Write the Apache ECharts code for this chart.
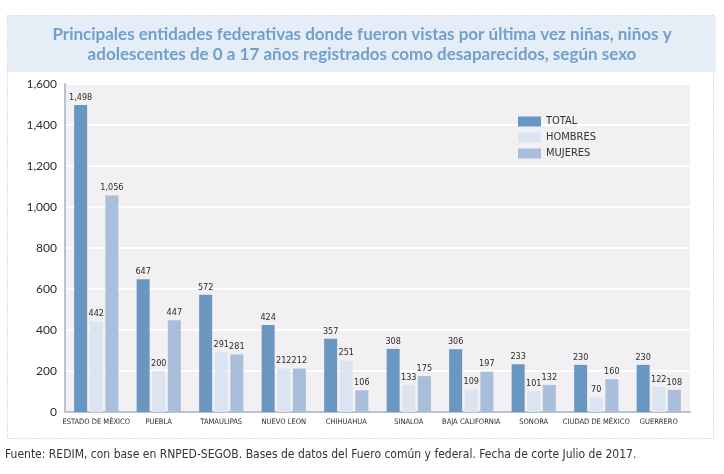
<!DOCTYPE html>
<html>
<head>
<meta charset="utf-8">
<script src="https://cdn.jsdelivr.net/npm/echarts@6/dist/echarts.min.js"></script>
<style>
  html, body { margin: 0; padding: 0; background: #fff; }
  #chart { width: 724px; height: 474px; }
</style>
</head>
<body>
<div id="chart"></div>
<script>
// entidades federativas
const estados = ['ESTADO DE MÉXICO', 'PUEBLA', 'TAMAULIPAS', 'NUEVO LEON', 'CHIHUAHUA',
  'SINALOA', 'BAJA CALIFORNIA', 'SONORA', 'CIUDAD DE MÉXICO', 'GUERRERO'];
const total   = [1498, 647, 572, 424, 357, 308, 306, 233, 230, 230];
const hombres = [442, 200, 291, 212, 251, 133, 109, 101, 70, 122];
const mujeres = [1056, 447, 281, 212, 106, 175, 197, 132, 160, 108];
const seriesNames = ['TOTAL', 'HOMBRES', 'MUJERES'];
const colores = ['#6a96c2', '#dbe4f0', '#a8bedb'];

const narrow = '"DejaVu Sans Condensed", "Liberation Sans Narrow", "Liberation Sans", sans-serif';

let chart = echarts.init(document.getElementById('chart'));

function barSerie(name, data, color) {
    return {
        name: name,
        type: 'bar',
        data: data,
        barWidth: 13,
        barGap: '20%',
        itemStyle: { color: color },
        label: {
            show: true,
            position: 'top',
            distance: 3,
            fontFamily: narrow,
            fontSize: 9,
            color: '#2b2b2b',
            formatter: (p) => p.value.toLocaleString('en-US')
        }
    };
}

let option = {
    animation: false,
    backgroundColor: '#ffffff',
    title: {
        text: 'Principales entidades federativas donde fueron vistas por última vez niñas, niños y\nadolescentes de 0 a 17 años registrados como desaparecidos, según sexo',
        left: 'center',
        top: 20,
        textStyle: {
            fontFamily: 'Lato, sans-serif',
            fontWeight: 'bold',
            fontSize: 17,
            lineHeight: 20,
            color: '#72a0cd'
        }
    },
    graphic: [
        // caja del título
        { type: 'rect', z: -10, shape: { x: 8, y: 16, width: 708, height: 56 }, style: { fill: '#e5edf6' } },
        // borde punteado
        { type: 'rect', z: -11, shape: { x: 7.5, y: 15.5, width: 706, height: 423 },
          style: { fill: 'none', stroke: '#b9bcc4', lineWidth: 1, lineDash: [1, 2] } },
        // fuente
        { type: 'text', left: 5, top: 449,
          style: { text: 'Fuente: REDIM, con base en RNPED-SEGOB. Bases de datos del Fuero común y federal. Fecha de corte Julio de 2017.',
                   font: '12px ' + narrow, fill: '#333333' } }
    ],
    legend: {
        data: seriesNames,
        orient: 'vertical',
        left: 513,
        top: 111,
        itemWidth: 23,
        itemHeight: 10,
        itemGap: 5,
        icon: 'rect',
        textStyle: { fontFamily: narrow, fontSize: 11, color: '#333' }
    },
    grid: {
        left: 65,
        right: 34,
        top: 84,
        bottom: 62,
        show: true,
        backgroundColor: '#f2f0f2',
        borderWidth: 0
    },
    xAxis: {
        type: 'category',
        data: estados,
        axisLine: { lineStyle: { color: '#b7c3d3', width: 2 } },
        axisTick: { show: false },
        axisLabel: {
            interval: 0,
            fontFamily: narrow,
            fontSize: 7.5,
            color: '#2b2b2b',
            margin: 6
        }
    },
    yAxis: {
        type: 'value',
        min: 0,
        max: 1600,
        interval: 200,
        axisLine: { show: true, lineStyle: { color: '#b7c3d3', width: 2 } },
        axisTick: { show: false },
        splitLine: { lineStyle: { color: '#ffffff', width: 2 } },
        axisLabel: {
            fontFamily: 'Lato, sans-serif',
            fontSize: 12,
            color: '#2b2b2b',
            margin: 8,
            formatter: (v) => v.toLocaleString('en-US')
        }
    },
    series: [
        barSerie(seriesNames[0], total, colores[0]),
        barSerie(seriesNames[1], hombres, colores[1]),
        barSerie(seriesNames[2], mujeres, colores[2])
    ]
};

chart.setOption(option);
</script>
</body>
</html>
